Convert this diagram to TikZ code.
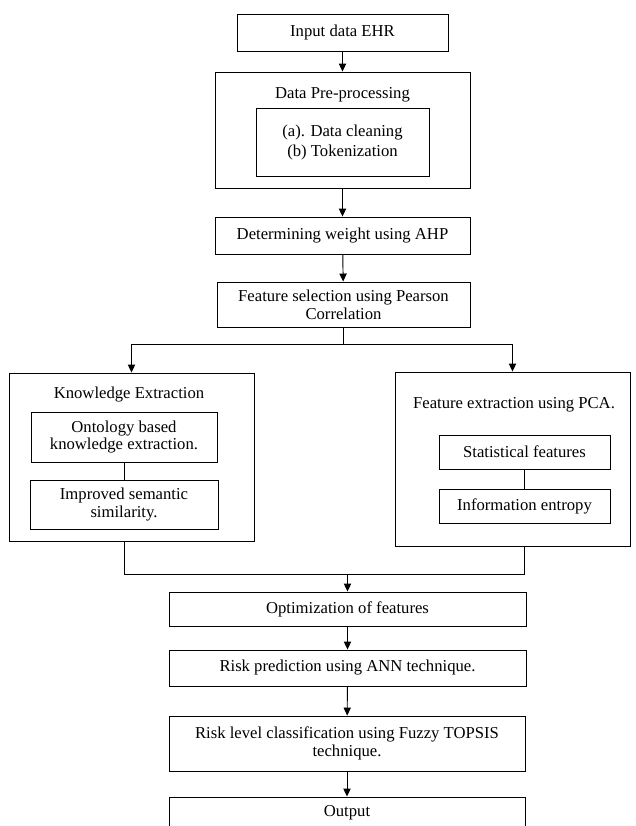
\documentclass[tikz,border=0pt]{standalone}
\usepackage{fontspec}
\setmainfont{Liberation Serif}
\usetikzlibrary{arrows.meta}

\tikzset{
  box/.style={draw, line width=0.7pt, align=center, inner sep=1pt,
    font=\fontsize{12.5}{13.2}\selectfont},
  heading/.style={align=center, inner sep=1pt,
    font=\fontsize{12.5}{13.2}\selectfont},
  wh/.style 2 args={minimum width=#1*0.75pt, minimum height=#2*0.75pt},
  flow/.style={line width=0.7pt, -{Triangle[length=6pt,width=5.5pt]}},
  link/.style={line width=0.7pt}
}

\begin{document}
\begin{tikzpicture}[x=0.75pt, y=-0.75pt]
  \useasboundingbox (0,0) rectangle (636,826);
  \clip (0,0) rectangle (636,826);

  % main column
  \node[box, wh={211}{37}] (input) at (342.5,32.5) {Input data EHR};
  \node[box, wh={255}{116}] (prep) at (342.5,130) {};
  \node[heading] (preptitle) at (342.5,95) {Data Pre-processing};
  \node[box, wh={173}{68}, font=\fontsize{12.5}{15}\selectfont] (clean) at (342.5,142)
    {(a). Data cleaning\\(b) Tokenization};
  \node[box, wh={255}{37}] (ahp) at (342.5,235.5) {Determining weight using AHP};
  \node[box, wh={253}{45}] (fs) at (343.5,304.5) {Feature selection using Pearson\\Correlation};

  % left branch
  \node[box, wh={245}{168}] (ke) at (131.5,457) {};
  \node[heading] (ketitle) at (129,395) {Knowledge Extraction};
  \node[box, wh={186}{50}] (onto) at (124,437) {Ontology based\\knowledge extraction.};
  \node[box, wh={188}{49}] (imp) at (124,504.5) {Improved semantic\\similarity.};

  % right branch
  \node[box, wh={235}{174}] (fe) at (512.5,459) {};
  \node[heading] (fetitle) at (514,405) {Feature extraction using PCA.};
  \node[box, wh={171}{34}] (stat) at (524.5,452) {Statistical features};
  \node[box, wh={171}{34}] (info) at (524.5,506) {Information entropy};

  % lower column
  \node[box, wh={357}{34}] (opt) at (347.5,609) {Optimization of features};
  \node[box, wh={357}{36}] (risk) at (347.5,668) {Risk prediction using ANN technique.};
  \node[box, wh={356}{55}] (level) at (347,743.5) {Risk level classification using Fuzzy TOPSIS\\technique.};
  \node[box, wh={356}{32}] (out) at (347,813) {Output};

  % connectors
  \draw[flow] (input) -- (prep);
  \draw[flow] (prep) -- (ahp);
  \draw[flow] (ahp) -- (fs);
  \draw[flow] (fs.south) -- ++(0,17) coordinate (split) -| (ke.north);
  \draw[flow] (split) -| (fe.north);
  \draw[link] (onto) -- (imp);
  \draw[link] (stat) -- (info);
  \draw[link] (imp |- ke.south) -- ++(0,33) coordinate (merge) -| (info |- fe.south);
  \draw[flow] (merge -| opt.north) -- (opt.north);
  \draw[flow] (opt) -- (risk);
  \draw[flow] (risk) -- (level);
  \draw[flow] (level) -- (out);
\end{tikzpicture}
\end{document}
